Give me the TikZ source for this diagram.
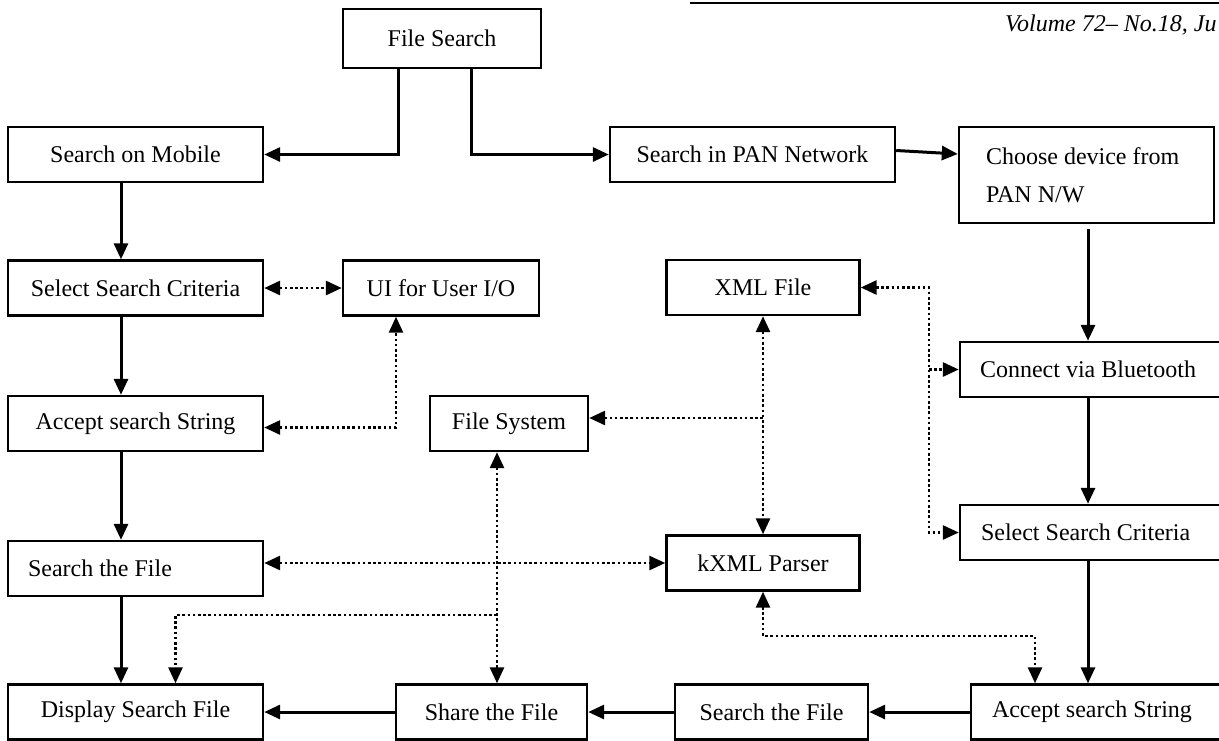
\documentclass[tikz,border=0pt]{standalone}
\usepackage{fontspec}
\setmainfont{Liberation Serif}
\usetikzlibrary{arrows.meta}

\begin{document}
\begin{tikzpicture}[x=1pt, y=-1pt,
    >={Triangle[length=16pt,width=14pt]},
    box/.style={draw, line width=2.4pt, inner sep=0pt, minimum height=55pt, align=center, font=\fontsize{24}{29}\selectfont},
    lbox/.style={box, align=flush left},
    arr/.style={->, line width=3pt},
    dot/.style={line width=2.8pt, dash pattern=on 2.6pt off 2.6pt}]
    \useasboundingbox (0,0) rectangle (1219,740);
    \clip (0,0) rectangle (1219,740);

    % Page header
    \draw[line width=2.8pt] (690,3) -- (1219,3);
    \node[anchor=base west, inner sep=0pt, font=\fontsize{24}{29}\selectfont\itshape] (vol) at (1005,31) {Volume 72-- No.18, Ju};

    % Boxes
    \node[box, minimum width=198pt, minimum height=59pt] (fsearch) at (442,38.5) {File Search};
    \node[box, minimum width=255pt] (mobile) at (135.5,154.5) {Search on Mobile};
    \node[box, minimum width=285pt] (pan) at (752.5,154.5) {Search in PAN Network};
    \node[lbox, text width=201pt, inner xsep=27pt, minimum height=96pt, font=\fontsize{24}{38}\selectfont] (choose) at (1086.5,175) {Choose device from\\PAN N/W};

    \node[box, minimum width=255pt] (selL) at (135.5,288) {Select Search Criteria};
    \node[box, minimum width=196pt] (ui) at (441,288) {UI for User I/O};
    \node[box, minimum width=193pt] (xml) at (763,287.5) {XML File};
    \node[lbox, text width=225pt, inner xsep=20pt] (bt) at (1092.5,369.5) {Connect via Bluetooth};

    \node[box, minimum width=255pt] (accL) at (135.5,423.5) {Accept search String};
    \node[box, minimum width=158pt] (fsys) at (509,423.5) {File System};
    \node[lbox, text width=223pt, inner xsep=21pt] (selR) at (1092.5,532.5) {Select Search Criteria};

    \node[lbox, text width=215pt, inner xsep=20pt] (searchL) at (135.5,568.5) {Search the File};
    \node[box, minimum width=193pt] (kxml) at (763,563) {kXML Parser};

    \node[box, minimum width=255pt] (display) at (135.5,712) {Display Search File};
    \node[box, minimum width=191pt] (share) at (491.5,712) {Share the File};
    \node[box, minimum width=193pt] (searchM) at (771.5,712) {Search the File};
    \node[lbox, text width=212pt, inner xsep=21pt] (accR) at (1098,712) {Accept search String};

    % Bends and junctions
    \coordinate (lc) at (121,0);
    \coordinate (rc) at (1088,0);
    \coordinate (uicol) at (396,0);
    \coordinate (vbus) at (497,0);
    \coordinate (rbus) at (929,0);
    \coordinate (fsin) at (763,418);
    \coordinate (dj) at (497,615);
    \coordinate (kacc) at (1035,636);

    % Main flow
    \draw[arr] ([xshift=-44pt]fsearch.south) |- (mobile);
    \draw[arr] ([xshift=29pt]fsearch.south) |- (pan);
    \draw[arr] ([yshift=4pt]pan.east) -- ([yshift=21pt]choose.west);

    \draw[arr] (mobile.south -| lc) -- (selL.north -| lc);
    \draw[arr] (selL.south -| lc) -- (accL.north -| lc);
    \draw[arr] (accL.south -| lc) -- (searchL.north -| lc);
    \draw[arr] (searchL.south -| lc) -- (display.north -| lc);

    \draw[arr, shorten <=5pt] (choose.south -| rc) -- (bt.north -| rc);
    \draw[arr] (bt.south -| rc) -- (selR.north -| rc);
    \draw[arr] (selR.south -| rc) -- (accR.north -| rc);

    \draw[arr] (accR) -- (searchM);
    \draw[arr] (searchM) -- (share);
    \draw[arr] (share) -- (display);

    % Data exchange (dotted)
    \draw[dot, <->] (selL) -- (ui);
    \draw[dot, <->] ([yshift=-4pt]accL.east) -| (uicol |- ui.south);
    \draw[dot, <->] (xml.south) -- (xml.south |- kxml.north);
    \draw[dot, ->] (fsin) -- (fsin -| fsys.east);
    \draw[dot, <->] (xml.east) -| (rbus |- selR.west) -- (selR.west);
    \draw[dot, ->] (rbus |- bt.west) -- (bt.west);
    \draw[dot, <->] (searchL.east |- kxml.west) -- (kxml.west);
    \draw[dot, <->] (vbus |- fsys.south) -- (vbus |- share.north);
    \draw[dot, ->] (dj) -| ([xshift=40pt]display.north);
    \draw[dot, <->] (kxml.south) |- (kacc) -- (kacc |- accR.north);
\end{tikzpicture}
\end{document}
